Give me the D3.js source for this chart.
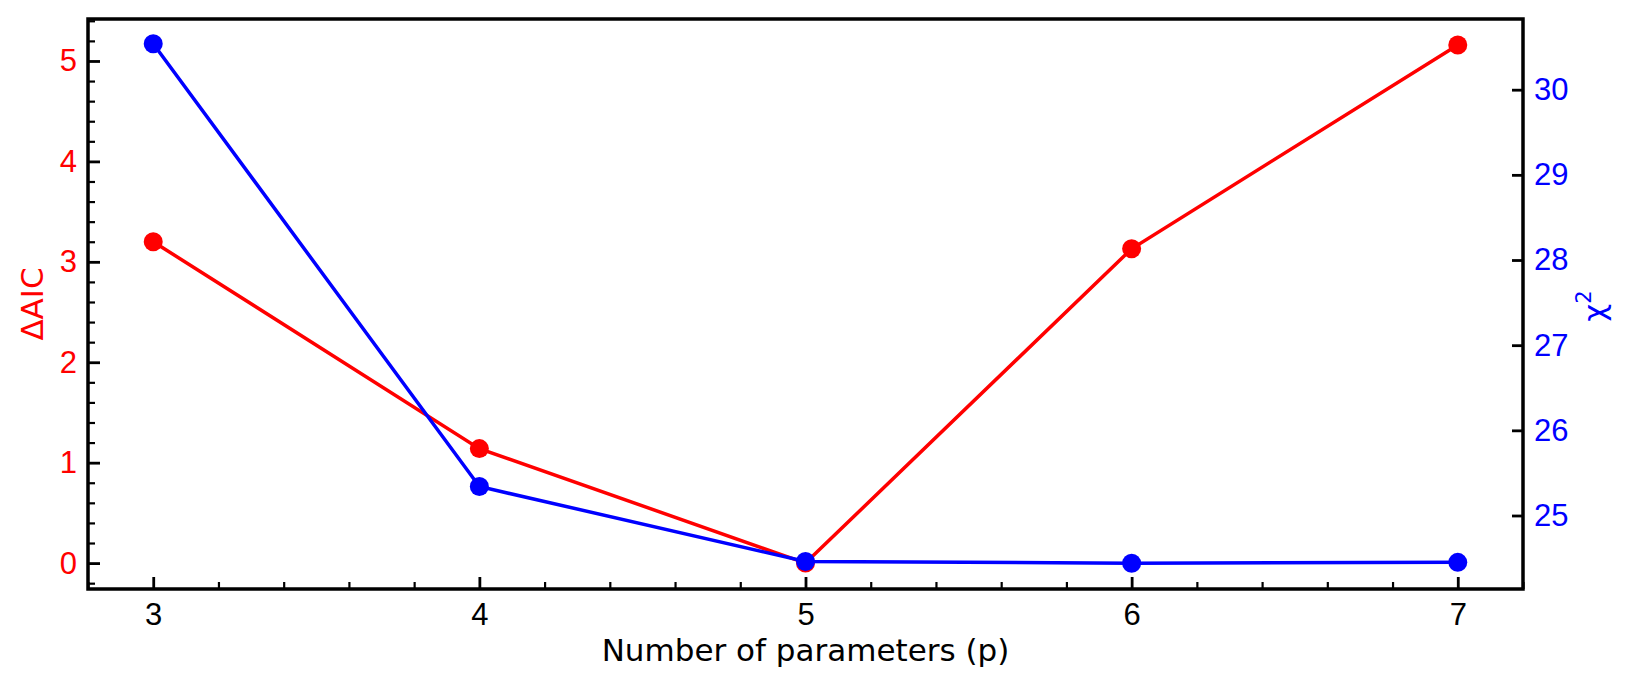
<!DOCTYPE html>
<html>
<head>
<meta charset="utf-8">
<script src="https://cdn.jsdelivr.net/npm/d3@7"></script>
<style>
  body { margin: 0; background: #fff; }
  svg { font-family: "DejaVu Sans", sans-serif; }
</style>
</head>
<body>
<div class="chart"></div>
<script>
// data
let params = [3, 4, 5, 6, 7];
let deltaAIC = [3.20, 1.14, 0.00, 3.13, 5.16];
let chi2 = [30.54, 25.34, 24.46, 24.44, 24.45];

let xTicks = [3, 4, 5, 6, 7];
let leftTicks = [0, 1, 2, 3, 4, 5];
let rightTicks = [25, 26, 27, 28, 29, 30];

let width = 1634;
let height = 687;
let margin = {top: 19, right: 111, bottom: 98, left: 88};
let w = width - margin.left - margin.right;
let h = height - margin.top - margin.bottom;

let svg = d3.select(".chart")
  .append("svg")
  .attr("width", width)
  .attr("height", height)
  .append("g")
  .attr("transform", "translate(" + margin.left + "," + margin.top + ")");

let x = d3.scaleLinear().domain([2.8, 7.2]).range([0, w]);
let yL = d3.scaleLinear().domain([-0.258, 5.418]).range([h, 0]);
let yR = d3.scaleLinear().domain([24.137, 30.83]).range([h, 0]);

// minor ticks every 0.2
let xMinor = d3.range(2.8, 7.21, 0.2).map(v => +v.toFixed(1)).filter(v => !xTicks.includes(v));
let yMinor = d3.range(-0.2, 5.41, 0.2).map(v => +v.toFixed(1)).filter(v => !leftTicks.includes(v));

function styleAxis(g, color, size) {
  g.select(".domain").remove();
  g.selectAll(".tick line").attr("stroke", "#000").attr("stroke-width", 2.8);
  g.selectAll(".tick text")
    .attr("fill", color)
    .attr("font-size", size);
}

function styleMinor(g) {
  g.select(".domain").remove();
  g.selectAll(".tick line").attr("stroke", "#000").attr("stroke-width", 2.2);
}

// bottom axis
svg.append("g")
  .attr("transform", "translate(0," + h + ")")
  .call(d3.axisBottom(x).tickValues(xMinor).tickSize(-7).tickFormat(""))
  .call(styleMinor);

svg.append("g")
  .attr("transform", "translate(0," + h + ")")
  .call(d3.axisBottom(x).tickValues(xTicks).tickSize(-12).tickPadding(14).tickFormat(d3.format("d")))
  .call(g => styleAxis(g, "#000", 31));

// left axis
svg.append("g")
  .call(d3.axisLeft(yL).tickValues(yMinor).tickSize(-7).tickFormat(""))
  .call(styleMinor);

svg.append("g")
  .call(d3.axisLeft(yL).tickValues(leftTicks).tickSize(-12).tickPadding(11).tickFormat(d3.format("d")))
  .call(g => styleAxis(g, "#ff0000", 31));

// right axis
svg.append("g")
  .attr("transform", "translate(" + w + ",0)")
  .call(d3.axisRight(yR).tickValues(rightTicks).tickSize(-11).tickPadding(11).tickFormat(d3.format("d")))
  .call(g => styleAxis(g, "#0000ff", 31));

// lines
let lineL = d3.line().x((d, i) => x(params[i])).y(d => yL(d));
let lineR = d3.line().x((d, i) => x(params[i])).y(d => yR(d));

svg.append("path")
  .datum(deltaAIC)
  .attr("d", lineL)
  .attr("fill", "none")
  .attr("stroke", "#ff0000")
  .attr("stroke-width", 3.5);

svg.selectAll(".ptL")
  .data(deltaAIC)
  .enter().append("circle")
  .attr("class", "ptL")
  .attr("cx", (d, i) => x(params[i]))
  .attr("cy", d => yL(d))
  .attr("r", 9.5)
  .attr("fill", "#ff0000");

svg.append("path")
  .datum(chi2)
  .attr("d", lineR)
  .attr("fill", "none")
  .attr("stroke", "#0000ff")
  .attr("stroke-width", 3.5);

svg.selectAll(".ptR")
  .data(chi2)
  .enter().append("circle")
  .attr("class", "ptR")
  .attr("cx", (d, i) => x(params[i]))
  .attr("cy", d => yR(d))
  .attr("r", 9.5)
  .attr("fill", "#0000ff");

// frame
svg.append("rect")
  .attr("width", w)
  .attr("height", h)
  .attr("fill", "none")
  .attr("stroke", "#000")
  .attr("stroke-width", 3.5);

// axis labels
svg.append("text")
  .attr("text-anchor", "middle")
  .attr("x", w / 2)
  .attr("y", 661 - margin.top)
  .attr("font-size", 31)
  .attr("fill", "#000")
  .text("Number of parameters (p)");

svg.append("text")
  .attr("text-anchor", "middle")
  .attr("transform", "translate(" + (43 - margin.left) + "," + (304 - margin.top) + ") rotate(-90)")
  .attr("font-size", 31)
  .attr("fill", "#ff0000")
  .text("ΔAIC");

let chiLabel = svg.append("text")
  .attr("text-anchor", "middle")
  .attr("transform", "translate(" + (1605 - margin.left) + "," + (306 - margin.top) + ") rotate(-90)")
  .attr("font-size", 31)
  .attr("fill", "#0000ff");
chiLabel.append("tspan").text("χ");
chiLabel.append("tspan").attr("font-size", 21).attr("dy", -14).text("2");
</script>
</body>
</html>
